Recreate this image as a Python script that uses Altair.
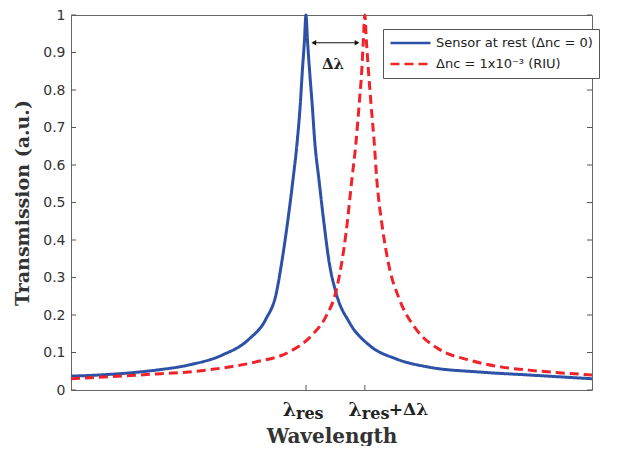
import altair as alt
import pandas as pd

# Readings from the reference (x in arbitrary wavelength units 0..100)
blue_x = [0, 5.4, 13.1, 16.3, 22.7, 29.0, 34.2, 37.4, 39.4, 40.5, 41.5, 42.6, 43.4, 44.0, 44.4, 44.8,
          45.1, 45.4, 45.8, 46.3, 46.8, 47.6, 48.6, 49.5, 50.9, 53.4, 57.2, 62.4, 68.7, 78.3, 87.9, 100]
blue_y = [0.037, 0.040, 0.048, 0.053, 0.067, 0.093, 0.136, 0.189, 0.258, 0.345, 0.44, 0.56, 0.66, 0.76, 0.85, 0.93,
          1.0, 0.93, 0.85, 0.76, 0.66, 0.56, 0.44, 0.345, 0.258, 0.181, 0.12, 0.083, 0.061, 0.048, 0.040, 0.030]

red_x = [0, 13.1, 25.9, 35.5, 41.8, 46.3, 48.9, 50.9, 52.8, 53.9, 54.7, 55.3, 55.8, 56.1,
         56.4, 56.7, 57.1, 57.6, 58.2, 58.7, 59.7, 61.0, 63.0, 66.2, 70.6, 76.4, 82.7, 87.9, 100]
red_y = [0.030, 0.040, 0.053, 0.075, 0.101, 0.147, 0.195, 0.265, 0.42, 0.56, 0.66, 0.76, 0.85, 0.93,
         1.0, 0.93, 0.85, 0.76, 0.66, 0.56, 0.44, 0.333, 0.243, 0.163, 0.109, 0.080, 0.061, 0.053, 0.040]

series_names = ["Sensor at rest (Δnc = 0)", "Δnc = 1x10⁻³  (RIU)"]
series_colors = ["#2d51a6", "#f0232b"]

y_ticks = [0, 0.1, 0.2, 0.3, 0.4, 0.5, 0.6, 0.7, 0.8, 0.9, 1.0]
x_ticks = [45.1, 56.4]  # λres, λres+Δλ

arrow_x = [46.6, 54.9]
arrow_y = 0.926
delta_label_x = 50.3
delta_label_y = 0.869

W, H = 521, 375

df = pd.concat([
    pd.DataFrame({"wl": blue_x, "T": blue_y, "series": series_names[0], "o": 0}),
    pd.DataFrame({"wl": red_x, "T": red_y, "series": series_names[1], "o": 1}),
])

xscale = alt.Scale(domain=[0, 100], nice=False, zero=False)
yscale = alt.Scale(domain=[0, 1], nice=False)

leg = alt.Legend(
    orient="none", legendX=312, legendY=14, title=None,
    fillColor="white", strokeColor="#555", padding=6,
    symbolType="stroke", symbolSize=1600, symbolStrokeWidth=2.5,
    labelFont="DejaVu Sans", labelFontSize=13, labelColor="#222", labelLimit=300,
    rowPadding=5, labelOffset=4, clipHeight=16,
)

xaxis = alt.Axis(
    labels=False, ticks=False, domain=False, grid=False, title="Wavelength",
    titleFont="DejaVu Serif", titleFontSize=20, titleFontWeight="bold",
    titleColor="#333", titlePadding=36)
yaxis = alt.Axis(
    values=y_ticks, format="~g", ticks=False, domain=False, grid=False,
    labelFont="DejaVu Sans", labelFontSize=14, labelColor="#333", labelPadding=6,
    title="Transmission (a.u.)", titleFont="DejaVu Serif", titleFontSize=19,
    titleFontWeight="bold", titleColor="#333", titlePadding=10)

X = lambda f="wl:Q": alt.X(f, scale=xscale, axis=xaxis, title="Wavelength")
Y = lambda f="T:Q": alt.Y(f, scale=yscale, axis=yaxis, title="Transmission (a.u.)")

lines = alt.Chart(df).mark_line(strokeWidth=3, interpolate="monotone").encode(
    x=X(), y=Y(),
    color=alt.Color("series:N", scale=alt.Scale(domain=series_names, range=series_colors), legend=leg),
    strokeDash=alt.StrokeDash("series:N", scale=alt.Scale(domain=series_names, range=[[1, 0], [9, 5]]), legend=leg),
    order="o:Q",
    detail="series:N",
)

ytdf = pd.DataFrame({"T": y_ticks})
xtdf = pd.DataFrame({"wl": x_ticks})

tick_color = "#555"
left_ticks = alt.Chart(ytdf).mark_rule(color=tick_color).encode(
    y=Y(), x=alt.value(0), x2=alt.value(5))
right_ticks = alt.Chart(ytdf).mark_rule(color=tick_color).encode(
    y=Y(), x=alt.value(W - 5), x2=alt.value(W))
bottom_ticks = alt.Chart(xtdf).mark_rule(color=tick_color).encode(
    x=X(), y=alt.value(H - 5), y2=alt.value(H))

# Δλ arrow annotation
arr_df = pd.DataFrame({"wl": [arrow_x[0]], "wl2": [arrow_x[1]], "T": [arrow_y]})
arrow = alt.Chart(arr_df).mark_rule(color="#111", strokeWidth=1).encode(
    x=X(), x2="wl2:Q", y=Y())
head_df = pd.DataFrame({"wl": arrow_x, "T": [arrow_y, arrow_y], "shape": ["triangle-left", "triangle-right"]})
heads = alt.Chart(head_df).mark_point(filled=True, color="#111", size=30, opacity=1).encode(
    x=X(), y=Y(), shape=alt.Shape("shape:N", scale=None))
dl_df = pd.DataFrame({"wl": [delta_label_x], "T": [delta_label_y], "t": ["Δλ"]})
dlabel = alt.Chart(dl_df).mark_text(font="DejaVu Serif", fontSize=15, fontWeight="bold", color="#222").encode(
    x=X(), y=Y(), text="t:N")

# x tick labels: λ with subscript "res"
label_parts = [
    (x_ticks[0], "λ", -10, "right", 19, H + 26),
    (x_ticks[0], "res", -10, "left", 16, H + 29),
    (x_ticks[1], "λ", -3, "right", 19, H + 26),
    (x_ticks[1], "res", -3, "left", 16, H + 29),
    (x_ticks[1], "+Δλ", 24, "left", 17, H + 25),
]
label_layers = []
for xv, txt, dx, al, fs, yp in label_parts:
    ldf = pd.DataFrame({"wl": [xv], "t": [txt]})
    label_layers.append(
        alt.Chart(ldf).mark_text(font="DejaVu Serif", fontWeight="bold", fontSize=fs, color="#222",
                                 align=al, baseline="alphabetic", dx=dx).encode(
            x=X(), y=alt.value(yp), text="t:N")
    )

chart = alt.layer(lines, left_ticks, right_ticks, bottom_ticks, arrow, heads, dlabel, *label_layers).properties(
    width=W, height=H, padding={"left": 5, "top": 0, "right": 0, "bottom": 0}
).configure_view(stroke="#666", strokeWidth=1)

chart.save("out.html", embed_options={"renderer": "svg", "actions": False})
